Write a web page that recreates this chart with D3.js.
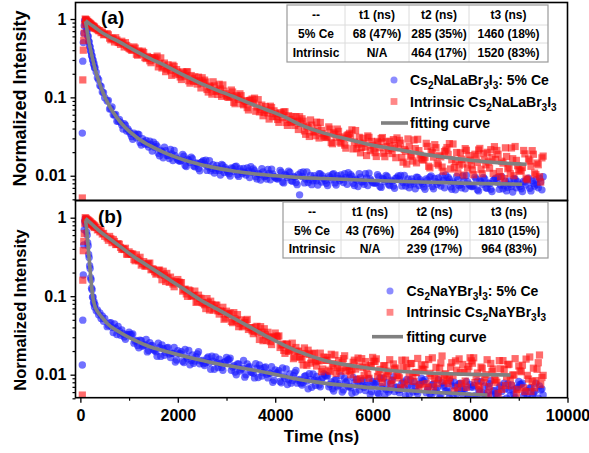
<!DOCTYPE html>
<html><head><meta charset="utf-8">
<script src="https://cdn.jsdelivr.net/npm/d3@7"></script>
<style>
body{margin:0;background:#fff}
text{font-family:"Liberation Sans",Arial,Helvetica,sans-serif;font-weight:bold;fill:#000}
</style>
</head><body>
<svg id="chart" width="589" height="453"></svg>
<script>
// ---------- data ----------
const time = [40,50,60,70,80,90,
100,110,120,130,140,150,160,170,180,190,200,210,220,230,240,250,260,270,280,290,300,
325,350,375,400,425,450,475,500,
550,600,650,700,750,800,850,900,950,1000,
1050,1100,1150,1200,1250,1300,1350,1400,1450,1500,
1550,1600,1650,1700,1750,1800,1850,1900,1950,2000,
2050,2100,2150,2200,2250,2300,2350,2400,2450,2500,
2550,2600,2650,2700,2750,2800,2850,2900,2950,3000,
3050,3100,3150,3200,3250,3300,3350,3400,3450,3500,
3550,3600,3650,3700,3750,3800,3850,3900,3950,4000,
4050,4100,4150,4200,4250,4300,4350,4400,4450,4500,
4550,4600,4650,4700,4750,4800,4850,4900,4950,5000,
5050,5100,5150,5200,5250,5300,5350,5400,5450,5500,
5550,5600,5650,5700,5750,5800,5850,5900,5950,6000,
6050,6100,6150,6200,6250,6300,6350,6400,6450,6500,
6550,6600,6650,6700,6750,6800,6850,6900,6950,7000,
7050,7100,7150,7200,7250,7300,7350,7400,7450,7500,
7550,7600,7650,7700,7750,7800,7850,7900,7950,8000,
8050,8100,8150,8200,8250,8300,8350,8400,8450,8500,
8550,8600,8650,8700,8750,8800,8850,8900,8950,9000,
9050,9100,9150,9200,9250,9300,9350,9400,9450,9500];

// in-between time channels of the tail
const time2 = [575,625,675,725,775,825,875,925,975,1025,
1075,1125,1175,1225,1275,1325,1375,1425,1475,1525,
1575,1625,1675,1725,1775,1825,1875,1925,1975,2025,
2075,2125,2175,2225,2275,2325,2375,2425,2475,2525,
2575,2625,2675,2725,2775,2825,2875,2925,2975,3025,
3075,3125,3175,3225,3275,3325,3375,3425,3475,3525,
3575,3625,3675,3725,3775,3825,3875,3925,3975,4025,
4075,4125,4175,4225,4275,4325,4375,4425,4475,4525,
4575,4625,4675,4725,4775,4825,4875,4925,4975,5025,
5075,5125,5175,5225,5275,5325,5375,5425,5475,5525,
5575,5625,5675,5725,5775,5825,5875,5925,5975,6025,
6075,6125,6175,6225,6275,6325,6375,6425,6475,6525,
6575,6625,6675,6725,6775,6825,6875,6925,6975,7025,
7075,7125,7175,7225,7275,7325,7375,7425,7475,7525,
7575,7625,7675,7725,7775,7825,7875,7925,7975,8025,
8075,8125,8175,8225,8275,8325,8375,8425,8475,8525,
8575,8625,8675,8725,8775,8825,8875,8925,8975,9025,
9075,9125,9175,9225,9275,9325,9375,9425,9475];

// panel (a): Cs2NaLaBr3I3
const ceA = [0.035,0.29,0.50,0.66,0.82,0.95,
0.97,0.87,0.84,0.73,0.71,0.61,0.60,0.52,0.51,0.45,0.44,0.39,0.385,0.34,0.34,0.30,0.30,0.265,0.27,0.238,0.24,
0.21,0.178,0.168,0.142,0.138,0.117,0.115,0.099,
0.090,0.0711,0.0754,0.0596,0.0496,0.0524,0.0444,0.0461,0.0373,0.037,
0.0316,0.0350,0.0305,0.0336,0.0247,0.0272,0.0283,0.0232,0.0249,0.0268,
0.0250,0.0194,0.0210,0.0169,0.0209,0.0181,0.0216,0.0156,0.0180,0.0160,
0.0153,0.0187,0.0135,0.0163,0.0148,0.0165,0.0130,0.0142,0.0116,0.0150,
0.0140,0.0117,0.0155,0.0124,0.0108,0.0135,0.0117,0.0139,0.0110,0.0119,
0.0106,0.0126,0.0113,0.0132,0.0098,0.0114,0.0124,0.0102,0.0115,0.0130,
0.0122,0.0097,0.0107,0.0088,0.0112,0.0099,0.0120,0.0089,0.0105,0.0095,
0.0091,0.0117,0.0083,0.0104,0.0095,0.0110,0.0085,0.0096,0.0077,0.0057,
0.0098,0.0081,0.0112,0.0089,0.0077,0.0100,0.0086,0.0106,0.0083,0.0092,
0.0080,0.0099,0.0089,0.0106,0.0076,0.0092,0.0102,0.0082,0.0095,0.0109,
0.0103,0.0080,0.0090,0.0073,0.0096,0.0084,0.0106,0.0075,0.0091,0.0082,
0.0080,0.0103,0.0073,0.0092,0.0084,0.0097,0.0075,0.0085,0.0069,0.0094,
0.0089,0.0074,0.0101,0.0081,0.0070,0.0091,0.0079,0.0096,0.0075,0.0083,
0.0072,0.0091,0.0080,0.0099,0.0068,0.0084,0.0094,0.0074,0.0087,0.0102,
0.0095,0.0072,0.0083,0.0066,0.0089,0.0077,0.0099,0.0068,0.0084,0.0075,
0.0073,0.0096,0.0066,0.0086,0.0078,0.0091,0.0069,0.0079,0.0063,0.0089,
0.0083,0.0067,0.0097,0.0075,0.0064,0.0086,0.0073,0.0092,0.0070,0.0078,
0.0068,0.0085,0.0076,0.0093,0.0064,0.0079,0.0089,0.0070,0.0083,0.0097];
const ceA2 = [0.0913,0.0716,0.0601,0.0606,0.0500,0.0480,0.0394,0.0440,0.0395,0.0347,
0.0292,0.0335,0.0338,0.0266,0.0297,0.0254,0.0252,0.0275,0.0207,0.0231,
0.0237,0.0180,0.0203,0.0232,0.0181,0.0166,0.0190,0.0210,0.0168,0.0155,
0.0157,0.0178,0.0131,0.0158,0.0173,0.0133,0.0146,0.0124,0.0148,0.0155,
0.0158,0.0130,0.0116,0.0138,0.0117,0.0124,0.0102,0.0135,0.0127,0.0112,
0.0099,0.0123,0.0130,0.0103,0.0123,0.0107,0.0110,0.0126,0.0095,0.0111,
0.0116,0.0091,0.0104,0.0123,0.0097,0.0091,0.0107,0.0121,0.0098,0.0092,
0.0095,0.0111,0.0081,0.0101,0.0114,0.0087,0.0098,0.0082,0.0103,0.0109,
0.0112,0.0091,0.0082,0.0101,0.0086,0.0093,0.0076,0.0105,0.0099,0.0087,
0.0075,0.0096,0.0104,0.0081,0.0100,0.0086,0.0090,0.0106,0.0078,0.0094,
0.0098,0.0075,0.0088,0.0106,0.0083,0.0078,0.0094,0.0108,0.0086,0.0081,
0.0082,0.0097,0.0071,0.0090,0.0101,0.0078,0.0088,0.0074,0.0093,0.0099,
0.0101,0.0082,0.0074,0.0091,0.0077,0.0084,0.0068,0.0095,0.0089,0.0079,
0.0067,0.0088,0.0096,0.0073,0.0092,0.0078,0.0082,0.0099,0.0070,0.0086,
0.0090,0.0067,0.0080,0.0098,0.0075,0.0070,0.0086,0.0101,0.0078,0.0073,
0.0075,0.0091,0.0064,0.0083,0.0095,0.0070,0.0081,0.0067,0.0087,0.0093,
0.0096,0.0076,0.0068,0.0085,0.0071,0.0078,0.0062,0.0090,0.0084,0.0073,
0.0063,0.0083,0.0090,0.0069,0.0086,0.0074,0.0077,0.0093,0.0066];

const intrA = [0.0052,0.167,0.40,0.53,0.66,0.85,
1.00,0.98,0.95,0.97,0.92,0.93,0.90,0.91,0.87,0.89,0.85,0.87,0.83,0.84,0.80,0.82,0.79,0.81,0.77,0.79,0.76,
0.75,0.73,0.71,0.71,0.67,0.68,0.63,0.64,
0.65,0.57,0.57,0.51,0.54,0.50,0.52,0.44,0.46,0.42,
0.40,0.44,0.355,0.39,0.357,0.373,0.313,0.323,0.277,0.318,
0.301,0.245,0.319,0.251,0.213,0.260,0.221,0.257,0.199,0.210,
0.182,0.211,0.186,0.212,0.152,0.173,0.183,0.148,0.162,0.178,
0.166,0.126,0.139,0.110,0.140,0.121,0.147,0.103,0.120,0.105,
0.100,0.124,0.0864,0.105,0.094,0.105,0.0804,0.088,0.0691,0.092,
0.0844,0.0666,0.0935,0.0705,0.0583,0.0763,0.0631,0.0771,0.0568,0.062,
0.0523,0.0638,0.0550,0.0656,0.0439,0.0524,0.0569,0.0438,0.0498,0.0567,
0.0533,0.0373,0.0429,0.0317,0.0443,0.0366,0.0483,0.0303,0.0379,0.0322,
0.0307,0.0420,0.0265,0.0353,0.0310,0.0369,0.0260,0.0301,0.0225,0.0333,
0.0306,0.0220,0.0377,0.0253,0.0196,0.0301,0.0233,0.0322,0.0209,0.0245,
0.0197,0.0274,0.0228,0.0307,0.0175,0.0235,0.0276,0.0192,0.0242,0.0304,
0.0283,0.0171,0.0216,0.0141,0.0238,0.0184,0.0286,0.0146,0.0209,0.0168,
0.0159,0.0259,0.0132,0.0206,0.0173,0.0228,0.0137,0.0174,0.0114,0.0212,
0.0187,0.0122,0.0254,0.0151,0.0109,0.0196,0.0141,0.0222,0.0126,0.0158,
0.0119,0.0188,0.0148,0.0223,0.0106,0.0159,0.0199,0.0125,0.0171,0.0235,
0.0210,0.0113,0.0153,0.0092,0.0176,0.0129,0.0226,0.0100,0.0157,0.0121,
0.0115,0.0210,0.0093,0.0163,0.0132,0.0188,0.0103,0.0138,0.0083,0.0178];
const intrA2 = [0.628,0.543,0.558,0.577,0.505,0.474,0.489,0.499,0.439,0.413,
0.402,0.425,0.345,0.376,0.388,0.322,0.333,0.293,0.319,0.320,
0.336,0.269,0.237,0.274,0.229,0.238,0.191,0.248,0.226,0.195,
0.169,0.203,0.212,0.163,0.190,0.161,0.161,0.181,0.132,0.152,
0.157,0.117,0.134,0.158,0.119,0.109,0.128,0.144,0.111,0.101,
0.103,0.117,0.083,0.101,0.111,0.083,0.091,0.074,0.091,0.095,
0.0977,0.0753,0.0652,0.0797,0.0644,0.0686,0.0529,0.0742,0.0673,0.0569,
0.0480,0.0613,0.0651,0.0478,0.0583,0.0481,0.0488,0.0567,0.0389,0.0465,
0.0497,0.0338,0.0412,0.0515,0.0361,0.0324,0.0404,0.0478,0.0344,0.0310,
0.0322,0.0394,0.0256,0.0340,0.0394,0.0270,0.0313,0.0246,0.0327,0.0348,
0.0385,0.0269,0.0222,0.0309,0.0230,0.0260,0.0181,0.0309,0.0274,0.0219,
0.0176,0.0263,0.0298,0.0194,0.0271,0.0210,0.0222,0.0289,0.0170,0.0228,
0.0260,0.0149,0.0206,0.0295,0.0177,0.0154,0.0222,0.0292,0.0183,0.0160,
0.0172,0.0237,0.0126,0.0197,0.0249,0.0144,0.0182,0.0129,0.0203,0.0229,
0.0257,0.0160,0.0127,0.0198,0.0136,0.0162,0.0102,0.0211,0.0181,0.0137,
0.0103,0.0178,0.0213,0.0121,0.0191,0.0138,0.0150,0.0215,0.0107,0.0161,
0.0188,0.0097,0.0145,0.0227,0.0123,0.0106,0.0165,0.0236,0.0134,0.0115,
0.0127,0.0190,0.0089,0.0154,0.0209,0.0108,0.0145,0.0097,0.0169];

// panel (b): Cs2NaYBr3I3
const ceB = [0.0133,0.0495,0.186,0.45,0.70,0.90,
0.97,0.84,0.81,0.66,0.60,0.48,0.44,0.34,0.31,0.245,0.225,0.172,0.162,0.126,0.121,0.097,0.098,0.082,0.085,0.073,0.078,
0.065,0.067,0.058,0.061,0.052,0.056,0.048,0.052,
0.0409,0.0457,0.0401,0.0443,0.0325,0.0359,0.0372,0.0303,0.0324,0.0348,
0.0324,0.0252,0.0273,0.0220,0.0271,0.0236,0.0281,0.0203,0.0234,0.0208,
0.0196,0.0252,0.0171,0.0215,0.0192,0.0223,0.0165,0.0187,0.0145,0.0202,
0.0185,0.0148,0.0210,0.0160,0.0134,0.0178,0.0149,0.0184,0.0138,0.0152,
0.0131,0.0162,0.0142,0.0172,0.0117,0.0142,0.0157,0.0123,0.0144,0.0166,
0.0155,0.0114,0.0130,0.0100,0.0137,0.0116,0.0152,0.0100,0.0124,0.0108,
0.0104,0.0138,0.0092,0.0119,0.0106,0.0125,0.0091,0.0104,0.0080,0.0115,
0.0105,0.0082,0.0122,0.0090,0.0075,0.0102,0.0084,0.0106,0.0078,0.0087,
0.0074,0.0095,0.0083,0.0103,0.0069,0.0085,0.0095,0.0074,0.0087,0.0103,
0.0096,0.0070,0.0081,0.0062,0.0086,0.0073,0.0097,0.0064,0.0080,0.0070,
0.0068,0.0092,0.0060,0.0080,0.0072,0.0085,0.0063,0.0073,0.0056,0.0082,
0.0076,0.0059,0.0091,0.0067,0.0055,0.0079,0.0064,0.0085,0.0061,0.0070,
0.0059,0.0078,0.0068,0.0087,0.0056,0.0071,0.0081,0.0061,0.0074,0.0090,
0.0082,0.0059,0.0070,0.0053,0.0076,0.0064,0.0086,0.0055,0.0071,0.0062,
0.0060,0.0083,0.0053,0.0072,0.0065,0.0078,0.0056,0.0066,0.0050,0.0075,
0.0069,0.0054,0.0083,0.0061,0.0050,0.0072,0.0059,0.0077,0.0055,0.0063,
0.0053,0.0070,0.0061,0.0078,0.0050,0.0064,0.0074,0.0056,0.0067,0.0082,
0.0075,0.0054,0.0063,0.0048,0.0068,0.0058,0.0078,0.0050,0.0064,0.0055];
const ceB2 = [0.0425,0.0461,0.0344,0.0392,0.0411,0.0318,0.0335,0.0282,0.0322,0.0325,
0.0330,0.0267,0.0236,0.0275,0.0230,0.0241,0.0195,0.0255,0.0235,0.0205,
0.0172,0.0222,0.0239,0.0177,0.0219,0.0183,0.0188,0.0222,0.0154,0.0186,
0.0196,0.0143,0.0169,0.0204,0.0152,0.0140,0.0169,0.0196,0.0149,0.0138,
0.0142,0.0168,0.0117,0.0149,0.0168,0.0123,0.0139,0.0114,0.0146,0.0154,
0.0162,0.0125,0.0108,0.0137,0.0111,0.0121,0.0093,0.0137,0.0126,0.0107,
0.0091,0.0121,0.0133,0.0096,0.0123,0.0101,0.0105,0.0126,0.0085,0.0105,
0.0112,0.0079,0.0096,0.0118,0.0086,0.0078,0.0097,0.0113,0.0085,0.0078,
0.0079,0.0097,0.0066,0.0087,0.0102,0.0073,0.0085,0.0070,0.0092,0.0099,
0.0097,0.0075,0.0066,0.0085,0.0070,0.0077,0.0060,0.0090,0.0083,0.0071,
0.0058,0.0079,0.0087,0.0064,0.0083,0.0069,0.0073,0.0089,0.0061,0.0077,
0.0082,0.0057,0.0071,0.0091,0.0065,0.0060,0.0077,0.0094,0.0069,0.0064,
0.0065,0.0081,0.0054,0.0073,0.0086,0.0060,0.0071,0.0057,0.0077,0.0084,
0.0086,0.0065,0.0057,0.0075,0.0060,0.0067,0.0051,0.0079,0.0073,0.0062,
0.0051,0.0072,0.0080,0.0057,0.0076,0.0062,0.0066,0.0082,0.0054,0.0070,
0.0073,0.0051,0.0064,0.0082,0.0059,0.0054,0.0070,0.0084,0.0062,0.0057,
0.0059,0.0073,0.0048,0.0066,0.0077,0.0054,0.0064,0.0051,0.0069,0.0075,
0.0078,0.0059,0.0052,0.0068,0.0055,0.0061,0.0046,0.0072,0.0066];

const intrB = [0.0055,0.16,0.38,0.50,0.63,0.85,
1.00,0.95,0.98,0.93,0.95,0.91,0.93,0.88,0.91,0.86,0.89,0.84,0.86,0.82,0.84,0.80,0.82,0.77,0.80,0.75,0.78,
0.75,0.70,0.71,0.66,0.68,0.62,0.63,0.58,
0.552,0.577,0.481,0.498,0.457,0.459,0.395,0.393,0.343,0.367,
0.343,0.293,0.336,0.282,0.249,0.276,0.243,0.261,0.217,0.220,
0.191,0.213,0.188,0.208,0.154,0.170,0.175,0.143,0.152,0.163,
0.148,0.116,0.123,0.0995,0.117,0.102,0.116,0.0853,0.0942,0.0829,
0.0778,0.0932,0.0667,0.0786,0.0702,0.0768,0.0592,0.0636,0.0508,0.0644,
0.0586,0.0477,0.0617,0.0485,0.0409,0.0500,0.0423,0.0489,0.0377,0.0397,
0.0333,0.0402,0.0345,0.0409,0.0271,0.0321,0.0347,0.0264,0.0299,0.0339,
0.0304,0.0222,0.0245,0.0187,0.0242,0.0203,0.0252,0.0168,0.0199,0.0170,
0.0156,0.0219,0.0132,0.0181,0.0156,0.0188,0.0129,0.0150,0.0109,0.0168,
0.0152,0.0114,0.0182,0.0129,0.0104,0.0151,0.0121,0.0160,0.0111,0.0127,
0.0100,0.0144,0.0118,0.0163,0.0089,0.0124,0.0147,0.0101,0.0130,0.0166,
0.0148,0.0095,0.0117,0.0080,0.0130,0.0103,0.0155,0.0085,0.0118,0.0098,
0.0091,0.0153,0.0076,0.0123,0.0102,0.0139,0.0082,0.0106,0.0068,0.0132,
0.0116,0.0077,0.0156,0.0096,0.0070,0.0124,0.0091,0.0141,0.0083,0.0103,
0.0077,0.0125,0.0097,0.0150,0.0069,0.0107,0.0135,0.0083,0.0117,0.0164,
0.0140,0.0079,0.0105,0.0065,0.0121,0.0091,0.0155,0.0071,0.0110,0.0087,
0.0080,0.0151,0.0065,0.0116,0.0094,0.0136,0.0072,0.0099,0.0058,0.0129,
0.0109,0.0068,0.0158,0.0088,0.0061,0.0121,0.0084,0.0142,0.0075,0.0098];
const intrB2 = [0.516,0.540,0.528,0.455,0.467,0.418,0.403,0.408,0.342,0.350,
0.345,0.283,0.296,0.313,0.261,0.241,0.255,0.264,0.223,0.205,
0.198,0.215,0.162,0.185,0.195,0.150,0.157,0.132,0.152,0.151,
0.149,0.121,0.107,0.120,0.100,0.102,0.0834,0.103,0.0936,0.0813,
0.0695,0.0833,0.0863,0.0665,0.0768,0.0650,0.0648,0.0722,0.0527,0.0598,
0.0607,0.0460,0.0513,0.0582,0.0448,0.0408,0.0463,0.0506,0.0398,0.0362,
0.0357,0.0413,0.0281,0.0349,0.0385,0.0274,0.0303,0.0242,0.0300,0.0310,
0.0312,0.0238,0.0204,0.0247,0.0198,0.0209,0.0160,0.0222,0.0199,0.0167,
0.0133,0.0186,0.0205,0.0140,0.0185,0.0146,0.0152,0.0188,0.0118,0.0153,
0.0165,0.0110,0.0138,0.0178,0.0123,0.0111,0.0143,0.0174,0.0124,0.0112,
0.0115,0.0153,0.0087,0.0129,0.0160,0.0098,0.0121,0.0090,0.0133,0.0148,
0.0159,0.0109,0.0090,0.0130,0.0096,0.0111,0.0076,0.0137,0.0122,0.0098,
0.0068,0.0125,0.0153,0.0083,0.0138,0.0097,0.0107,0.0161,0.0075,0.0118,
0.0134,0.0069,0.0104,0.0164,0.0089,0.0077,0.0121,0.0173,0.0099,0.0085,
0.0091,0.0142,0.0062,0.0114,0.0159,0.0077,0.0108,0.0069,0.0127,0.0150,
0.0164,0.0095,0.0072,0.0125,0.0080,0.0100,0.0058,0.0139,0.0118,0.0085,
0.0058,0.0119,0.0151,0.0073,0.0134,0.0088,0.0099,0.0160,0.0065,0.0112,
0.0132,0.0061,0.0098,0.0168,0.0082,0.0068,0.0117,0.0178,0.0092];

// fitting curves
const fitCeA_t = [105,125,150,175,200,250,300,350,400,450,500,600,700,800,900,1000,1200,1440,1700,2000,2400,2800,3200,3600,4000,4500,5000,6000,7000,8000,9070];
const fitCeA_v = [0.93,0.80,0.63,0.515,0.43,0.31,0.232,0.182,0.147,0.121,0.102,0.077,0.061,0.050,0.0425,0.037,0.0295,0.0240,0.0200,0.0169,0.0142,0.0125,0.0113,0.0105,0.0100,0.0095,0.0092,0.0087,0.0083,0.0080,0.0078];
const fitIntrA_t = [105,200,300,413,600,800,1100,1400,1782,2100,2466,2800,3150,3500,3835,4200,4520,5000,5550,6000,6573,7000,7600,8000,8625,9160];
const fitIntrA_v = [0.955,0.86,0.78,0.69,0.59,0.51,0.40,0.32,0.247,0.195,0.151,0.124,0.102,0.083,0.069,0.056,0.0445,0.035,0.0286,0.0245,0.0213,0.019,0.0169,0.0158,0.0146,0.0140];
const fitCeB_t = [105,125,150,175,200,225,250,300,350,400,500,550,800,1097,1400,1782,2200,2809,3300,3835,4520,5000,6000,7000,8353];
const fitCeB_v = [0.93,0.75,0.50,0.33,0.215,0.145,0.102,0.074,0.064,0.058,0.049,0.045,0.035,0.0277,0.0230,0.0196,0.0168,0.0138,0.0122,0.0106,0.0086,0.0078,0.0068,0.0061,0.0055];
const fitIntrB_t = [105,200,300,413,600,800,1097,1400,1782,2100,2466,2800,3150,3500,3835,4200,4520,5000,5684,6300,7051,8000,8831];
const fitIntrB_v = [0.98,0.867,0.76,0.66,0.541,0.437,0.318,0.241,0.169,0.126,0.0895,0.0688,0.0523,0.0397,0.0305,0.0235,0.0192,0.0153,0.0127,0.0114,0.0106,0.0101,0.0099];

const tableHead = ["--","t1 (ns)","t2 (ns)","t3 (ns)"];
const tableA = [["5% Ce","68 (47%)","285 (35%)","1460 (18%)"],["Intrinsic","N/A","464 (17%)","1520 (83%)"]];
const tableB = [["5% Ce","43 (76%)","264 (9%)","1810 (15%)"],["Intrinsic","N/A","239 (17%)","964 (83%)"]];

const xTicks = [0,2000,4000,6000,8000,10000];
const xMinor = [1000,3000,5000,7000,9000];
const yTicks = [1,0.1,0.01];
const yTickLabels = ["1","0.1","0.01"];
const yMinor = [0.005,0.006,0.007,0.008,0.009,0.02,0.03,0.04,0.05,0.06,0.07,0.08,0.09,0.2,0.3,0.4,0.5,0.6,0.7,0.8,0.9];

const legendA = [[["Cs",0],["2",1],["NaLaBr",0],["3",1],["I",0],["3",1],[": 5% Ce",0]],
                 [["Intrinsic Cs",0],["2",1],["NaLaBr",0],["3",1],["I",0],["3",1]],
                 [["fitting curve",0]]];
const legendB = [[["Cs",0],["2",1],["NaYBr",0],["3",1],["I",0],["3",1],[": 5% Ce",0]],
                 [["Intrinsic Cs",0],["2",1],["NaYBr",0],["3",1],["I",0],["3",1]],
                 [["fitting curve",0]]];

// ---------- layout ----------
const svg = d3.select("#chart");
const X0 = 75.5, X1 = 567.5;
const x = d3.scaleLinear().domain([-100, 10000]).range([X0, X1]);
const BLUE = "#1a1aff", RED = "#ff1010", GRAY = "#808080";
const OPA = 0.62;

const panels = [
  {id:"a", top:2.5, bottom:200.5, yDom:[0.00483,1.624], ce:ceA, ce2:ceA2, intr:intrA, intr2:intrA2,
   fits:[[fitCeA_t,fitCeA_v],[fitIntrA_t,fitIntrA_v]], label:"(a)", labelPos:[101,24],
   table:tableA, tx:[287,345,409,469,548], ty:[5,25,43,62],
   legend:legendA, legX:394, legY:[80,101.5,123], legTextX:410, legLine:[381,408],
   yTitleY:98.5, yTitleSize:18, showX:false},
  {id:"b", top:200.5, bottom:397.7, yDom:[0.00509,1.656], ce:ceB, ce2:ceB2, intr:intrB, intr2:intrB2,
   fits:[[fitCeB_t,fitCeB_v],[fitIntrB_t,fitIntrB_v]], label:"(b)", labelPos:[98,223],
   table:tableB, tx:[283,341,399,470,548], ty:[202,222,240,258],
   legend:legendB, legX:390, legY:[291,312.3,336.7], legTextX:406.5, legLine:[372,403],
   yTitleY:310, yTitleSize:16.5, showX:true}
];

panels.forEach(p => {
  const y = d3.scaleLog().domain(p.yDom).range([p.bottom, p.top]);
  const g = svg.append("g");
  g.append("clipPath").attr("id","clip"+p.id).append("rect")
    .attr("x",X0).attr("y",p.top).attr("width",X1-X0).attr("height",p.bottom-p.top);
  const plot = g.append("g").attr("clip-path","url(#clip"+p.id+")");

  const blue = time.map((t,i)=>({t, v:p.ce[i]})).concat(time2.map((t,i)=>({t, v:p.ce2[i]})));
  const red = time.map((t,i)=>({t, v:p.intr[i]})).concat(time2.map((t,i)=>({t, v:p.intr2[i]})));

  plot.append("g").selectAll("circle").data(blue).join("circle")
    .attr("cx", d=>x(d.t)).attr("cy", d=>y(d.v)).attr("r",3.7)
    .attr("fill",BLUE).attr("fill-opacity",OPA);
  plot.append("g").selectAll("rect").data(red).join("rect")
    .attr("x", d=>x(d.t)-3.6).attr("y", d=>y(d.v)-3.6).attr("width",7.2).attr("height",7.2)
    .attr("fill",RED).attr("fill-opacity",OPA);

  const line = d3.line().x(d=>x(d[0])).y(d=>y(d[1])).curve(d3.curveMonotoneX);
  p.fits.forEach(([ts,vs]) => {
    plot.append("path").datum(ts.map((t,i)=>[t,vs[i]])).attr("d",line)
      .attr("fill","none").attr("stroke",GRAY).attr("stroke-width",3.6);
  });

  // y axis
  const yMaj = g.append("g").attr("transform",`translate(${X0},0)`)
    .call(d3.axisLeft(y).tickValues(yTicks).tickSize(5).tickPadding(4)
      .tickFormat((d,i)=>yTickLabels[i]));
  yMaj.select(".domain").remove();
  yMaj.selectAll("line").attr("stroke","#000").attr("stroke-width",1.3);
  yMaj.selectAll("text").attr("font-size",16).attr("fill","#000")
    .style("font-family","'Liberation Sans',Arial,sans-serif").style("font-weight","bold");
  const yMin = g.append("g").attr("transform",`translate(${X0},0)`)
    .call(d3.axisLeft(y).tickValues(yMinor).tickSize(3).tickFormat(""));
  yMin.select(".domain").remove();
  yMin.selectAll("line").attr("stroke","#000").attr("stroke-width",1.2);

  if (p.showX) {
    const xMaj = g.append("g").attr("transform",`translate(0,${p.bottom})`)
      .call(d3.axisBottom(x).tickValues(xTicks).tickSize(5).tickPadding(7).tickFormat(d3.format("d")));
    xMaj.select(".domain").remove();
    xMaj.selectAll("line").attr("stroke","#000").attr("stroke-width",1.3);
    xMaj.selectAll("text").attr("font-size",16).attr("fill","#000")
      .style("font-family","'Liberation Sans',Arial,sans-serif").style("font-weight","bold");
    const xMin = g.append("g").attr("transform",`translate(0,${p.bottom})`)
      .call(d3.axisBottom(x).tickValues(xMinor).tickSize(3).tickFormat(""));
    xMin.select(".domain").remove();
    xMin.selectAll("line").attr("stroke","#000").attr("stroke-width",1.2);
    g.append("text").attr("x",(X0+X1)/2).attr("y",442).attr("text-anchor","middle")
      .attr("font-size",17).text("Time (ns)");
  }

  // y title
  g.append("text").attr("transform",`translate(26,${p.yTitleY}) rotate(-90)`)
    .attr("text-anchor","middle").attr("font-size",p.yTitleSize).text("Normalized Intensity");

  // frame
  g.append("rect").attr("x",X0).attr("y",p.top).attr("width",X1-X0).attr("height",p.bottom-p.top)
    .attr("fill","none").attr("stroke","#000").attr("stroke-width",1.6);

  // panel label
  g.append("text").attr("x",p.labelPos[0]).attr("y",p.labelPos[1]).attr("font-size",19).text(p.label);

  // table
  const tg = g.append("g");
  const rows = [tableHead].concat(p.table);
  tg.append("rect").attr("x",p.tx[0]).attr("y",p.ty[0])
    .attr("width",p.tx[4]-p.tx[0]).attr("height",p.ty[3]-p.ty[0]).attr("fill","#fff");
  for (let i=1;i<3;i++) tg.append("line").attr("x1",p.tx[0]).attr("x2",p.tx[4])
    .attr("y1",p.ty[i]).attr("y2",p.ty[i]).attr("stroke","#dcdcdc").attr("stroke-width",1);
  for (let j=1;j<4;j++) tg.append("line").attr("x1",p.tx[j]).attr("x2",p.tx[j])
    .attr("y1",p.ty[0]).attr("y2",p.ty[3]).attr("stroke","#dcdcdc").attr("stroke-width",1);
  tg.append("rect").attr("x",p.tx[0]).attr("y",p.ty[0])
    .attr("width",p.tx[4]-p.tx[0]).attr("height",p.ty[3]-p.ty[0])
    .attr("fill","none").attr("stroke","#9a9a9a").attr("stroke-width",1.2);
  rows.forEach((r,i)=>{
    r.forEach((c,j)=>{
      tg.append("text").attr("x",(p.tx[j]+p.tx[j+1])/2).attr("y",(p.ty[i]+p.ty[i+1])/2+4.3)
        .attr("text-anchor","middle").attr("font-size",12).attr("fill","#111").text(c);
    });
  });

  // legend
  const lg = g.append("g");
  lg.append("circle").attr("cx",p.legX).attr("cy",p.legY[0]).attr("r",3.5)
    .attr("fill",BLUE).attr("fill-opacity",0.5);
  lg.append("rect").attr("x",p.legX-3.4).attr("y",p.legY[1]-3.4).attr("width",6.8).attr("height",6.8)
    .attr("fill",RED).attr("fill-opacity",0.5);
  lg.append("line").attr("x1",p.legLine[0]).attr("x2",p.legLine[1])
    .attr("y1",p.legY[2]).attr("y2",p.legY[2]).attr("stroke",GRAY).attr("stroke-width",3.6);
  p.legend.forEach((parts,i)=>{
    const t = lg.append("text").attr("x",p.legTextX).attr("y",p.legY[i]+5).attr("font-size",14);
    parts.forEach(([s,sub],k)=>{
      const ts = t.append("tspan").text(s);
      const prevSub = k>0 && parts[k-1][1];
      if (sub) { ts.attr("font-size",10); ts.attr("dy", prevSub ? 0 : 4); }
      else { ts.attr("dy", prevSub ? -4 : 0); }
    });
  });
});
</script>
</body></html>
